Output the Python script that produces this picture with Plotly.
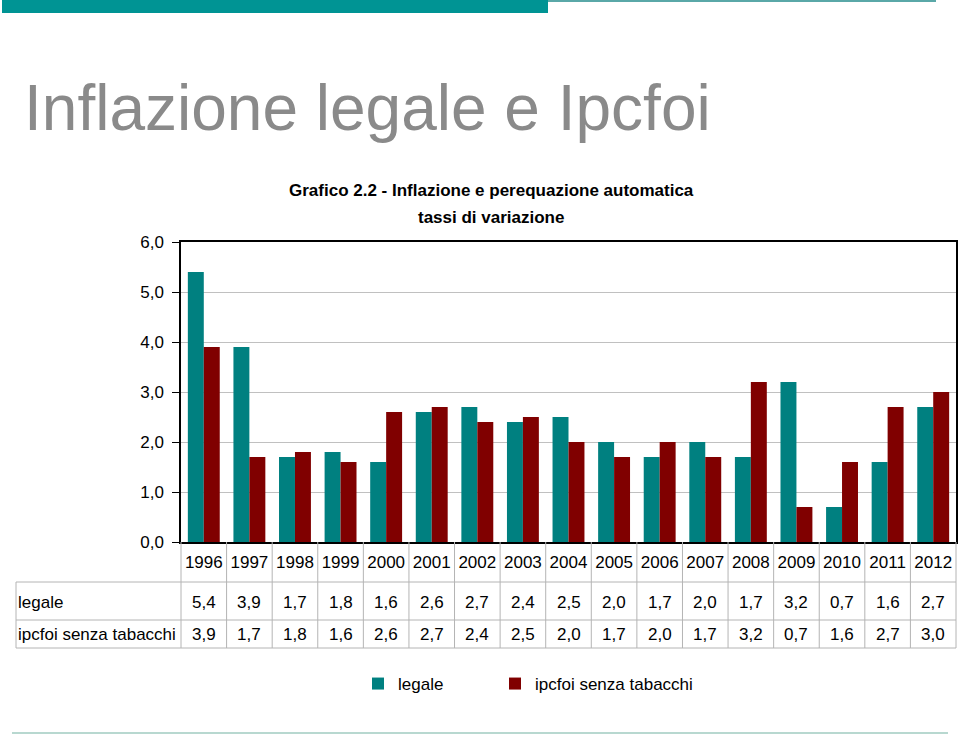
import plotly.graph_objects as go

years = ["1996", "1997", "1998", "1999", "2000", "2001", "2002", "2003", "2004",
         "2005", "2006", "2007", "2008", "2009", "2010", "2011", "2012"]
legale = [5.4, 3.9, 1.7, 1.8, 1.6, 2.6, 2.7, 2.4, 2.5, 2.0, 1.7, 2.0, 1.7, 3.2, 0.7, 1.6, 2.7]
ipcfoi = [3.9, 1.7, 1.8, 1.6, 2.6, 2.7, 2.4, 2.5, 2.0, 1.7, 2.0, 1.7, 3.2, 0.7, 1.6, 2.7, 3.0]
series_names = ["legale", "ipcfoi senza tabacchi"]
y_ticks = [0, 1, 2, 3, 4, 5, 6]

W, H = 959, 735
TEAL = "#008080"
MAROON = "#800000"
FONT = "Liberation Sans, Arial, sans-serif"


def px(x):
    return x / W


def py(y):
    return 1 - y / H


plot_left, plot_right = 181, 956
plot_top, plot_bottom = 242, 542
row1_bottom, row2_bottom = 582, 620
table_bottom = 648
table_left = 16

fig = go.Figure()
fig.add_trace(go.Bar(x=years, y=legale, name=series_names[0], marker_color=TEAL,
                     marker_line_width=0, legend="legend"))
fig.add_trace(go.Bar(x=years, y=ipcfoi, name=series_names[1], marker_color=MAROON,
                     marker_line_width=0, legend="legend2"))

shapes = []
# top decorative bar
shapes.append(dict(type="rect", xref="paper", yref="paper", x0=px(2), x1=px(548),
                   y0=py(0), y1=py(13), fillcolor="#009494", line_width=0, layer="above"))
shapes.append(dict(type="line", xref="paper", yref="paper", x0=px(548), x1=px(936),
                   y0=py(1), y1=py(1), line=dict(color="#5aa8a8", width=2)))
# bottom decorative line
shapes.append(dict(type="line", xref="paper", yref="paper", x0=px(12), x1=px(948),
                   y0=py(733), y1=py(733), line=dict(color="#b8d8d0", width=2)))

GRID = "#b4b4b4"
for yy in (row1_bottom, row2_bottom, table_bottom):
    shapes.append(dict(type="line", xref="paper", yref="paper", x0=px(table_left),
                       x1=px(plot_right), y0=py(yy), y1=py(yy),
                       line=dict(color=GRID, width=1)))
shapes.append(dict(type="line", xref="paper", yref="paper", x0=px(table_left),
                   x1=px(table_left), y0=py(row1_bottom), y1=py(table_bottom),
                   line=dict(color=GRID, width=1)))
for i in range(0, len(years) + 1):
    if i == 0:
        shapes.append(dict(type="line", xref="paper", yref="paper", x0=px(plot_left),
                           x1=px(plot_left), y0=py(plot_bottom), y1=py(table_bottom),
                           line=dict(color=GRID, width=1)))
    elif i == len(years):
        shapes.append(dict(type="line", xref="paper", yref="paper", x0=px(plot_right),
                           x1=px(plot_right), y0=py(plot_bottom), y1=py(table_bottom),
                           line=dict(color=GRID, width=1)))
    else:
        shapes.append(dict(type="line", xref="x", yref="paper", x0=i - 0.5, x1=i - 0.5,
                           y0=py(plot_bottom), y1=py(table_bottom),
                           line=dict(color=GRID, width=1)))

annotations = []
annotations.append(dict(text="Inflazione legale e Ipcfoi", xref="paper", yref="paper",
                        x=px(22), y=py(108), xanchor="left", yanchor="middle",
                        showarrow=False, font=dict(family=FONT, size=64, color="#8a8a8a")))
annotations.append(dict(text="<b>Grafico 2.2 - Inflazione e perequazione automatica</b>",
                        xref="paper", yref="paper", x=px(491), y=py(190),
                        xanchor="center", yanchor="middle", showarrow=False,
                        font=dict(family=FONT, size=17, color="#000000")))
annotations.append(dict(text="<b>tassi di variazione</b>",
                        xref="paper", yref="paper", x=px(491), y=py(218),
                        xanchor="center", yanchor="middle", showarrow=False,
                        font=dict(family=FONT, size=17, color="#000000")))

row_centers = [(row1_bottom + row2_bottom) / 2 + 1, (row2_bottom + table_bottom) / 2]
for name, vals, yc in zip(series_names, [legale, ipcfoi], row_centers):
    annotations.append(dict(text=name, xref="paper", yref="paper", x=px(table_left),
                            y=py(yc), xanchor="left", yanchor="middle", showarrow=False,
                            font=dict(family=FONT, size=17, color="#000000")))
    for idx, v in enumerate(vals):
        annotations.append(dict(text=f"{v:.1f}".replace(".", ","), xref="x", yref="paper",
                                x=idx, y=py(yc), xanchor="center", yanchor="middle",
                                showarrow=False,
                                font=dict(family=FONT, size=17, color="#000000")))

legend_common = dict(orientation="h", yanchor="top", xanchor="left",
                     font=dict(family=FONT, size=17, color="#000000"),
                     itemwidth=30, bgcolor="rgba(0,0,0,0)")

fig.update_layout(
    width=W, height=H, autosize=False,
    margin=dict(l=0, r=0, t=0, b=0, pad=0, autoexpand=False),
    paper_bgcolor="white", plot_bgcolor="white",
    separators=",.",
    barmode="group", bargap=0.3, bargroupgap=0,
    shapes=shapes, annotations=annotations,
    showlegend=True,
    legend=dict(x=px(358), y=py(666), **legend_common),
    legend2=dict(x=px(495), y=py(666), **legend_common),
    xaxis=dict(domain=[px(plot_left), px(plot_right)], type="category",
               range=[-0.5, len(years) - 0.5],
               showline=True, linecolor="#000000", linewidth=1.5, mirror=True,
               showgrid=False, ticks="", tickfont=dict(family=FONT, size=17, color="#000000"),
               ticklabelstandoff=4, fixedrange=True),
    yaxis=dict(domain=[py(plot_bottom), py(plot_top)], range=[0, 6],
               tickvals=y_ticks, tickformat=".1f",
               showline=True, linecolor="#000000", linewidth=1.5, mirror=True,
               showgrid=True, gridcolor="#c0c0c0", gridwidth=1,
               ticks="outside", ticklen=7, tickcolor="#000000",
               tickfont=dict(family=FONT, size=17, color="#000000"),
               ticklabelstandoff=5, zeroline=False, fixedrange=True),
)

fig.write_html("out.html", config={"displayModeBar": False},
               post_script="document.body.style.margin='0';document.body.style.overflow='hidden';")
